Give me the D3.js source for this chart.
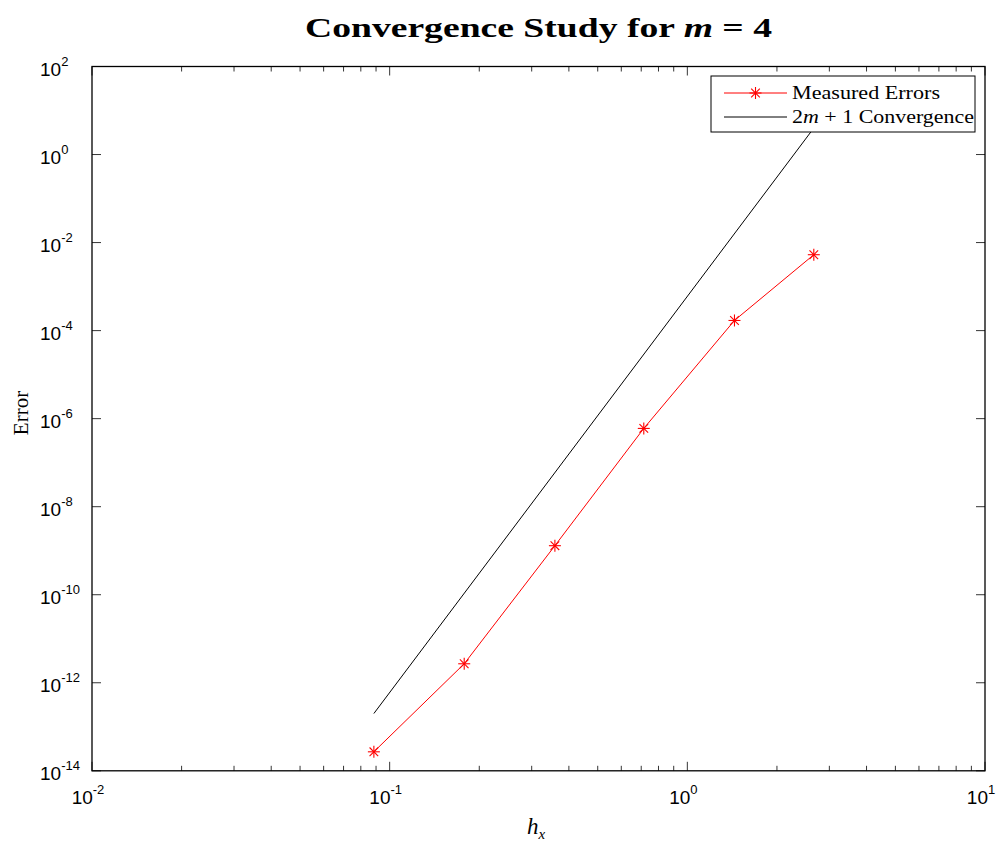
<!DOCTYPE html>
<html><head><meta charset="utf-8">
<script src="https://cdnjs.cloudflare.com/ajax/libs/d3/7.8.5/d3.min.js"></script>
<style>body{margin:0;background:#fff}</style>
</head><body>
<svg id="c" width="1001" height="849"></svg>
<script>
// data
const hx = [0.0885, 0.178, 0.359, 0.714, 1.44, 2.66];
const measuredErrors = [2.7e-14, 2.7e-12, 1.3e-9, 6.0e-7, 1.7e-4, 5.3e-3];
const convH = [0.0885, 2.66];
const convErr = [2.0e-13, 4.0];
const xTickExps = [-2, -1, 0, 1];
const yTickExps = [2, 0, -2, -4, -6, -8, -10, -12, -14];

const svg = d3.select('#c');
const L = 92, R = 985, T = 66.5, B = 770.8;
const x = d3.scaleLog().domain([1e-2, 1e1]).range([L, R]);
const y = d3.scaleLog().domain([1e-14, 1e2]).range([B, T]);
const serif = '"Liberation Serif", "DejaVu Serif", serif';

// title
const title = svg.append('text').attr('x', 305).attr('y', 37)
  .attr('textLength', 467).attr('lengthAdjust', 'spacingAndGlyphs')
  .style('font-family', serif).style('font-weight', 'bold').style('font-size', '28px');
title.append('tspan').text('Convergence Study for ');
title.append('tspan').text('m').style('font-style', 'italic');
title.append('tspan').text(' = 4');

// clip
svg.append('clipPath').attr('id', 'clip').append('rect').attr('x', L).attr('y', T).attr('width', R - L).attr('height', B - T);

// minor x ticks
const minor = [];
for (let e = -2; e < 1; e++) for (let k = 2; k <= 9; k++) minor.push(k * Math.pow(10, e));
const g = svg.append('g');
minor.forEach(v => {
  g.append('line').attr('x1', x(v)).attr('x2', x(v)).attr('y1', B).attr('y2', B - 5).attr('stroke', '#000').attr('stroke-width', 0.8);
  g.append('line').attr('x1', x(v)).attr('x2', x(v)).attr('y1', T).attr('y2', T + 5).attr('stroke', '#000').attr('stroke-width', 0.8);
});
xTickExps.forEach(e => {
  const v = Math.pow(10, e);
  g.append('line').attr('x1', x(v)).attr('x2', x(v)).attr('y1', B).attr('y2', B - 9).attr('stroke', '#000').attr('stroke-width', 0.8);
  g.append('line').attr('x1', x(v)).attr('x2', x(v)).attr('y1', T).attr('y2', T + 9).attr('stroke', '#000').attr('stroke-width', 0.8);
  const t = g.append('text').attr('x', x(v) - 4).attr('y', B + 33).attr('text-anchor', 'middle')
    .style('font-family', '"Liberation Sans", Arial, sans-serif').style('font-size', '19px');
  t.append('tspan').text('10');
  t.append('tspan').text(e).attr('dy', -10).style('font-size', '13px');
});
yTickExps.forEach(e => {
  const v = Math.pow(10, e);
  g.append('line').attr('x1', L).attr('x2', L + 9).attr('y1', y(v)).attr('y2', y(v)).attr('stroke', '#000').attr('stroke-width', 0.8);
  g.append('line').attr('x1', R).attr('x2', R - 9).attr('y1', y(v)).attr('y2', y(v)).attr('stroke', '#000').attr('stroke-width', 0.8);
  const t = g.append('text').attr('x', 40).attr('y', y(v) + 9)
    .style('font-family', '"Liberation Sans", Arial, sans-serif').style('font-size', '19px');
  t.append('tspan').text('10');
  t.append('tspan').text(e).attr('dy', -10).style('font-size', '13px');
});
// frame
svg.append('rect').attr('x', L).attr('y', T).attr('width', R - L).attr('height', B - T)
  .attr('fill', 'none').attr('stroke', '#000').attr('stroke-width', 1.3);

// axis labels
svg.append('text').attr('transform', 'translate(28,413) rotate(-90)').attr('text-anchor', 'middle')
  .style('font-family', serif).style('font-size', '21px').text('Error');
const xl = svg.append('text').attr('x', 527).attr('y', 834)
  .style('font-family', serif).style('font-size', '23px').style('font-style', 'italic');
xl.append('tspan').text('h');
xl.append('tspan').text('x').attr('dy', 5).style('font-size', '15px');

// lines
const plot = svg.append('g').attr('clip-path', 'url(#clip)');
const line = d3.line().x(d => x(d[0])).y(d => y(d[1]));
plot.append('path').datum(convH.map((h, i) => [h, convErr[i]])).attr('d', line)
  .attr('fill', 'none').attr('stroke', '#000').attr('stroke-width', 1);
plot.append('path').datum(hx.map((h, i) => [h, measuredErrors[i]])).attr('d', line)
  .attr('fill', 'none').attr('stroke', '#ff0000').attr('stroke-width', 1);

function star(sel, cx, cy, r) {
  const s = sel.append('g').attr('transform', `translate(${cx},${cy})`).attr('stroke', '#ff0000').attr('stroke-width', 1.1);
  s.append('line').attr('x1', -r).attr('x2', r).attr('y1', 0).attr('y2', 0);
  s.append('line').attr('x1', 0).attr('x2', 0).attr('y1', -r).attr('y2', r);
  const d = r * 0.72;
  s.append('line').attr('x1', -d).attr('x2', d).attr('y1', -d).attr('y2', d);
  s.append('line').attr('x1', -d).attr('x2', d).attr('y1', d).attr('y2', -d);
}
hx.forEach((h, i) => star(svg, x(h), y(measuredErrors[i]), 6));

// legend
const lg = svg.append('g');
lg.append('rect').attr('x', 711).attr('y', 76).attr('width', 264).attr('height', 56)
  .attr('fill', '#fff').attr('stroke', '#000').attr('stroke-width', 1);
lg.append('line').attr('x1', 724).attr('x2', 787).attr('y1', 93).attr('y2', 93).attr('stroke', '#ff0000').attr('stroke-width', 1);
star(lg, 755.5, 93, 6);
lg.append('text').attr('x', 792).attr('y', 99).attr('textLength', 148).attr('lengthAdjust', 'spacingAndGlyphs')
  .style('font-family', serif).style('font-size', '19px').text('Measured Errors');
lg.append('line').attr('x1', 724).attr('x2', 787).attr('y1', 117).attr('y2', 117).attr('stroke', '#000').attr('stroke-width', 1);
const lt = lg.append('text').attr('x', 792).attr('y', 123).attr('textLength', 182).attr('lengthAdjust', 'spacingAndGlyphs')
  .style('font-family', serif).style('font-size', '19px');
lt.append('tspan').text('2');
lt.append('tspan').text('m').style('font-style', 'italic');
lt.append('tspan').text(' + 1 Convergence');
</script>
</body></html>
